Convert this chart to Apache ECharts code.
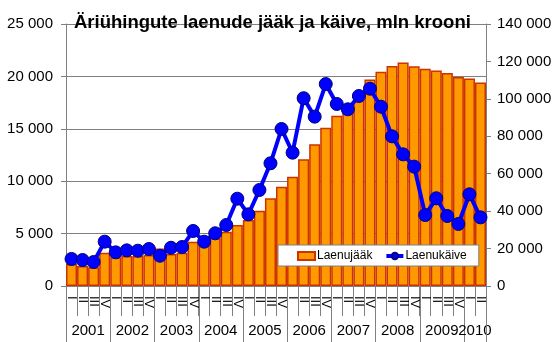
<!DOCTYPE html>
<html><head><meta charset="utf-8">
<script src="https://cdn.jsdelivr.net/npm/echarts@6/dist/echarts.min.js"></script>
<style>html,body{margin:0;padding:0;background:#fff}#c{width:560px;height:342px}</style>
</head><body><div id="c"></div>
<script>
const years = ['2001','2002','2003','2004','2005','2006','2007','2008','2009','2010'];
const quartersPerYear = [4,4,4,4,4,4,4,4,4,2];
const quarterNames = ['I','II','III','IV'];
const laenujaak = [11800,10700,10000,17800,15300,16000,16000,16600,20100,17100,17800,23700,
  21900,25500,29000,32600,35300,40200,46900,53100,58400,
  67700,75700,84600,91000,93000,99400,110400,114500,117600,
  119400,117400,116100,115200,113800,111700,110900,108700];
const laenukaive = [2580,2480,2290,4230,3210,3400,3370,3530,2890,3650,3720,5250,
  4230,5030,5820,8330,6840,9160,
  11710,14980,12720,17920,16160,19270,
  17370,16860,18130,18830,17110,14280,
  12560,11390,6770,8370,6680,5920,8750,6550];
const leftAxis = {min:0, max:25000, step:5000};
const rightAxis = {min:0, max:140000, step:20000};

const categories = [];
const yearSpans = [];
let pos = 0;
years.forEach((y, i) => {
  yearSpans.push([pos, quartersPerYear[i]]);
  for (let q = 0; q < quartersPerYear[i]; q++) categories.push(quarterNames[q]);
  pos += quartersPerYear[i];
});

const FONT = "'Liberation Sans', Arial, sans-serif";
const fmt = v => String(v).replace(/\B(?=(\d{3})+(?!\d))/g, ' ');
const AX = '#808080';

const chart = echarts.init(document.getElementById('c'), null, {renderer: 'canvas'});
chart.setOption({
  backgroundColor: '#ffffff',
  animation: false,
  textStyle: {fontFamily: FONT},
  title: {
    text: 'Äriühingute laenude jääk ja käive, mln krooni',
    left: 69, top: 8,
    textStyle: {fontFamily: FONT, fontSize: 18.5, fontWeight: 'bold', color: '#000'}
  },
  legend: {
    left: 278, top: 245,
    data: [{name: 'Laenujääk', icon: 'rect'}, {name: 'Laenukäive', lineStyle: {width: 4}}],
    itemWidth: 17, itemHeight: 8, itemGap: 12,
    padding: [5, 12, 4, 19],
    backgroundColor: '#ffffff', borderColor: '#808080', borderWidth: 1,
    textStyle: {fontFamily: FONT, fontSize: 12, color: '#000', padding: [0,0,0,-3]}
  },
  grid: {left: 66, right: 74, top: 24, bottom: 56, containLabel: false},
  xAxis: [{
    type: 'category', data: categories, boundaryGap: true,
    axisLine: {show: true, lineStyle: {color: AX, width: 1}},
    axisTick: {show: true, interval: 0, length: 30, lineStyle: {color: AX}},
    axisLabel: {interval: 0, rotate: -90, margin: 10, fontSize: 13, color: '#000', fontFamily: FONT},
    splitLine: {show: false}
  }, {
    type: 'value', min: 0, max: categories.length, show: false, position: 'bottom'
  }],
  yAxis: [{
    type: 'value', min: leftAxis.min, max: leftAxis.max, interval: leftAxis.step, position: 'left',
    axisLine: {show: true, lineStyle: {color: AX}},
    axisTick: {show: true, length: 5, lineStyle: {color: AX}},
    axisLabel: {margin: 13, fontSize: 15, color: '#000', fontFamily: FONT, formatter: fmt},
    splitLine: {show: true, lineStyle: {color: AX, width: 1}}
  }, {
    type: 'value', min: rightAxis.min, max: rightAxis.max, interval: rightAxis.step, position: 'right',
    axisLine: {show: true, lineStyle: {color: AX}},
    axisTick: {show: true, length: 5, lineStyle: {color: AX}},
    axisLabel: {margin: 11, fontSize: 15, color: '#000', fontFamily: FONT, formatter: fmt},
    splitLine: {show: false}
  }],
  series: [{
    name: 'Laenujääk', type: 'bar', xAxisIndex: 0, yAxisIndex: 1,
    data: laenujaak, barCategoryGap: '0%',
    itemStyle: {color: '#FF9900', borderColor: '#CC3300', borderWidth: 1.5}
  }, {
    name: 'Laenukäive', type: 'line', xAxisIndex: 0, yAxisIndex: 0,
    data: laenukaive, symbol: 'circle', symbolSize: 13,
    lineStyle: {color: '#0000FF', width: 4},
    itemStyle: {color: '#0000FF', borderColor: '#00007a', borderWidth: 1}
  }, {
    name: 'years', type: 'custom', xAxisIndex: 1, yAxisIndex: 0, clip: false, silent: true,
    data: yearSpans,
    renderItem: (params, api) => {
      const s = api.value(0), n = api.value(1);
      const p0 = api.coord([s, 0]);
      const p1 = api.coord([s + n, 0]);
      const x0 = Math.round(p0[0]) + 0.5;
      const y0 = p0[1];
      const children = [{
        type: 'line', shape: {x1: x0, y1: y0, x2: x0, y2: y0 + 56},
        style: {stroke: AX, lineWidth: 1}
      }, {
        type: 'text',
        style: {text: years[params.dataIndex], x: (p0[0] + p1[0]) / 2, y: y0 + 45,
          textAlign: 'center', textVerticalAlign: 'middle', fill: '#000', font: '15px ' + FONT}
      }];
      if (params.dataIndex === yearSpans.length - 1) {
        const x1 = Math.round(p1[0]) + 0.5;
        children.push({type: 'line', shape: {x1: x1, y1: y0, x2: x1, y2: y0 + 56},
          style: {stroke: AX, lineWidth: 1}});
      }
      return {type: 'group', children};
    }
  }]
});
</script></body></html>
